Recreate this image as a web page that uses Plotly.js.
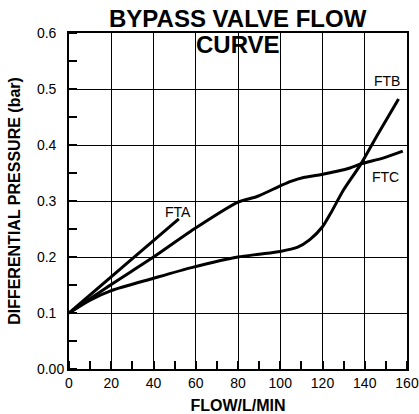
<!DOCTYPE html>
<html>
<head>
<meta charset="utf-8">
<script src="https://cdn.plot.ly/plotly-3.0.1.min.js"></script>
<style>html,body{margin:0;padding:0;background:#fff;}#chart{width:419px;height:414px;}</style>
</head>
<body>
<div id="chart"></div>
<script>
// Data
const ftaFlow = [0, 26, 52];
const ftaPressure = [0.1, 0.184, 0.268];

const ftbFlow = [0, 10, 20, 40, 58, 80, 90, 100, 108, 114, 120, 124, 130, 138, 146, 156];
const ftbPressure = [0.1, 0.123, 0.14, 0.162, 0.181, 0.2, 0.205, 0.21, 0.217, 0.231, 0.254, 0.279, 0.32, 0.365, 0.418, 0.482];

const ftcFlow = [0, 20, 40, 58, 80, 89, 100, 105, 111, 119, 133, 138, 149, 158];
const ftcPressure = [0.1, 0.151, 0.2, 0.247, 0.298, 0.308, 0.327, 0.335, 0.342, 0.347, 0.359, 0.366, 0.377, 0.389];

const seriesNames = ['FTA', 'FTB', 'FTC'];
const labelFlow = [51.5, 150.5, 149.9];
const labelPressure = [0.280, 0.515, 0.342];

const xTickVals = [0, 20, 40, 60, 80, 100, 120, 140, 160];
const xTickText = ['0', '20', '40', '60', '80', '100', '120', '140', '160'];
const yTickVals = [0, 0.1, 0.2, 0.3, 0.4, 0.5, 0.6];
const yTickText = ['0.00', '0.1\u2007', '0.2\u2007', '0.3\u2007', '0.4\u2007', '0.5\u2007', '0.6\u2007'];

const titleLines = ['BYPASS VALVE FLOW', 'CURVE'];
const xTitle = 'FLOW/L/MIN';
const yTitle = 'DIFFERENTIAL PRESSURE (bar)';

const FONT = '"Liberation Sans", Arial, Helvetica, sans-serif';
const lineStyle = {color: '#000', width: 3, shape: 'spline', smoothing: 0.7};

const traces = [
  {x: ftaFlow, y: ftaPressure, mode: 'lines', name: seriesNames[0], line: lineStyle, hoverinfo: 'skip'},
  {x: ftbFlow, y: ftbPressure, mode: 'lines', name: seriesNames[1], line: lineStyle, hoverinfo: 'skip'},
  {x: ftcFlow, y: ftcPressure, mode: 'lines', name: seriesNames[2], line: lineStyle, hoverinfo: 'skip'}
];

const annotations = seriesNames.map((n, i) => ({
  x: labelFlow[i], y: labelPressure[i], xref: 'x', yref: 'y', text: n, showarrow: false,
  font: {family: FONT, size: 14, color: '#000'}, xanchor: 'center', yanchor: 'middle'
}));
annotations.push({
  xref: 'paper', yref: 'paper', x: 0.5, y: 1.043, text: '<b>' + titleLines[0] + '</b>', showarrow: false,
  font: {family: FONT, size: 24, color: '#000'}, xanchor: 'center', yanchor: 'middle'
});
annotations.push({
  xref: 'paper', yref: 'paper', x: 0.5, y: 0.966, text: '<b>' + titleLines[1] + '</b>', showarrow: false,
  font: {family: FONT, size: 24, color: '#000'}, xanchor: 'center', yanchor: 'middle'
});

const layout = {
  width: 419, height: 414,
  margin: {l: 69, r: 12, t: 33, b: 45, pad: 0},
  paper_bgcolor: '#fff', plot_bgcolor: '#fff',
  showlegend: false,
  font: {family: FONT, color: '#000', size: 14},
  xaxis: {
    range: [0, 160], tickmode: 'array', tickvals: xTickVals, ticktext: xTickText,
    showgrid: true, gridcolor: '#000', gridwidth: 1,
    showline: true, linecolor: '#000', linewidth: 2, mirror: true,
    ticks: '', zeroline: false,
    tickfont: {family: FONT, size: 14, color: '#000'},
    minor: {tickmode: 'linear', tick0: 0, dtick: 10, ticks: 'inside', ticklen: 8, tickwidth: 2, tickcolor: '#000', showgrid: false},
    title: {text: '<b>' + xTitle + '</b>', font: {family: FONT, size: 16, color: '#000'}, standoff: 13},
    fixedrange: true
  },
  yaxis: {
    range: [0, 0.6], tickmode: 'array', tickvals: yTickVals, ticktext: yTickText,
    showgrid: true, gridcolor: '#000', gridwidth: 1,
    showline: true, linecolor: '#000', linewidth: 2, mirror: true,
    ticks: '', zeroline: false,
    tickfont: {family: FONT, size: 14, color: '#000'},
    minor: {tickmode: 'linear', tick0: 0, dtick: 0.05, ticks: 'inside', ticklen: 8, tickwidth: 2, tickcolor: '#000', showgrid: false},
    title: {text: '<b>' + yTitle + '</b>', font: {family: FONT, size: 16, color: '#000'}, standoff: 12},
    fixedrange: true
  },
  annotations: annotations
};

Plotly.newPlot('chart', traces, layout, {staticPlot: true, displayModeBar: false});
</script>
</body>
</html>
